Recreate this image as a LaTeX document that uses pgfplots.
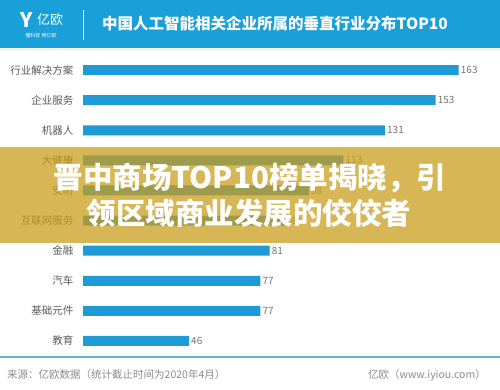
\documentclass[border=0pt]{standalone}
\usepackage{fontspec}
\setmainfont{Noto Sans CJK SC}
\usepackage{pgfplots}
\pgfplotsset{compat=1.18}
\definecolor{barblue}{RGB}{30,154,214}
\definecolor{hdrblue}{RGB}{26,160,216}
\definecolor{lightcyan}{RGB}{205,242,250}
\definecolor{labgray}{RGB}{90,90,90}
\definecolor{valgray}{RGB}{115,115,115}
\definecolor{footgray}{RGB}{140,140,140}
\definecolor{teal}{RGB}{95,180,200}
\definecolor{gold}{RGB}{202,158,30}
\begin{document}
\begin{tikzpicture}
\path[use as bounding box, fill=white] (0,0) rectangle (500pt,-390pt);
% header
\fill[hdrblue] (0,0) rectangle (500pt,-48pt);
\draw[lightcyan, line width=1.5pt] (0,-49.5pt) -- (500pt,-49.5pt);
\node[text=white, font=\fontsize{20}{20}\selectfont\bfseries, inner sep=0pt] at (27pt,-20pt) {Y};
\node[text=white, font=\fontsize{13}{13}\selectfont, inner sep=0pt] at (50pt,-20pt) {亿欧};
\node[text=white, font=\fontsize{5}{5}\selectfont, inner sep=0pt] at (41pt,-36pt) {懂科技 用亿欧};
\draw[white, line width=0.8pt] (83pt,-10pt) -- (83pt,-40pt);
\node[text=white, font=\fontsize{15.5}{16}\selectfont\bfseries, anchor=west, inner sep=0pt] at (102pt,-24pt) {中国人工智能相关企业所属的垂直行业分布TOP10};
% chart
\begin{axis}[
  at={(83pt,-356pt)}, anchor=south west,
  scale only axis, width=414.9pt, height=301pt,
  xbar, xmin=0, xmax=180, ymin=-0.5, ymax=9.5,
  bar width=10pt,
  axis line style={draw=none},
  ytick={0,...,9},
  yticklabels={教育,基础元件,汽车,金融,互联网服务,安防,大健康,机器人,企业服务,行业解决方案},
  xtick=\empty,
  major tick length=0pt,
  ytick style={draw=none},
  yticklabel style={font=\fontsize{10.5}{12}\selectfont, text=labgray, xshift=-6pt},
  nodes near coords,
  nodes near coords style={font=\fontsize{10}{12}\selectfont, text=valgray, anchor=west, inner sep=2pt},
  /pgf/number format/assume math mode=true,
  clip=false,
]
\addplot[fill=barblue, draw=none] coordinates {(46,0) (77,1) (77,2) (81,3) (89,4) (98,5) (113,6) (131,7) (153,8) (163,9)};
\end{axis}
% bottom line and footer
\draw[teal, line width=1.2pt] (0,-357pt) -- (500pt,-357pt);
\node[text=footgray, font=\fontsize{10.5}{12}\selectfont, anchor=west, inner sep=0pt] at (7pt,-375pt) {来源：亿欧数据（统计截止时间为2020年4月）};
\node[text=footgray, font=\fontsize{10.5}{12}\selectfont, anchor=east, inner sep=0pt] at (486pt,-375pt) {亿欧（www.iyiou.com）};
% banner overlay
\fill[gold, fill opacity=0.75] (0,-147pt) rectangle (500pt,-243pt);
\node[text=white, font=\fontsize{29.5}{30}\selectfont\bfseries, inner sep=0pt] at (250pt,-178pt) {晋中商场TOP10榜单揭晓，引};
\node[text=white, font=\fontsize{29.5}{30}\selectfont\bfseries, inner sep=0pt] at (249pt,-213pt) {领区域商业发展的佼佼者};
\end{tikzpicture}
\end{document}
